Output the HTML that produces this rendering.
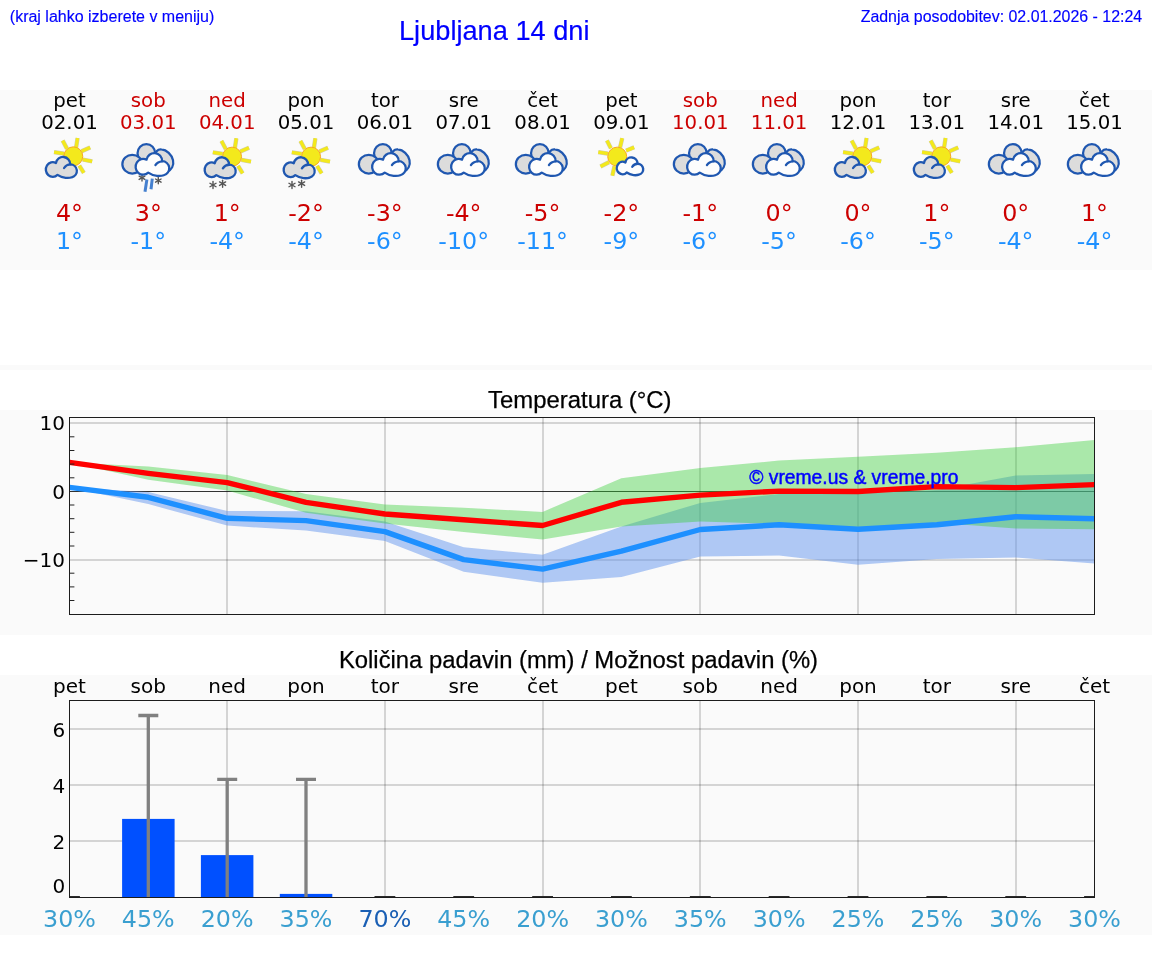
<!DOCTYPE html>
<html lang="sl"><head><meta charset="utf-8"><title>Ljubljana 14 dni</title>
<style>
html,body{margin:0;padding:0;background:#fff;}
body{width:1152px;height:975px;overflow:hidden;}
svg{display:block;will-change:transform;}
.dj{font-family:"DejaVu Sans","Liberation Sans",sans-serif;}
.ar{font-family:"Liberation Sans","DejaVu Sans",sans-serif;}
.d20{font-size:20px;}
.d24{font-size:23.8px;}
.mid{text-anchor:middle;}
.end{text-anchor:end;}
</style></head><body>
<svg width="1152" height="975" viewBox="0 0 1152 975">
<rect x="0" y="90" width="1152" height="180" fill="#fafafa"/>
<rect x="0" y="365" width="1152" height="5" fill="#fafafa"/>
<rect x="0" y="410" width="1152" height="225" fill="#fafafa"/>
<rect x="0" y="675" width="1152" height="260" fill="#fafafa"/>
<text class="ar" x="9.8" y="21.8" font-size="16" fill="#0000ff" stroke="#0000ff" stroke-width="0.15">(kraj lahko izberete v meniju)</text>
<text class="ar" x="399" y="39.6" font-size="27.2" fill="#0000ff" stroke="#0000ff" stroke-width="0.2">Ljubljana 14 dni</text>
<text class="ar end" x="1142.2" y="21.8" font-size="15.93" fill="#0000ff" stroke="#0000ff" stroke-width="0.15">Zadnja posodobitev: 02.01.2026 - 12:24</text>
<text class="dj mid" font-size="19.75" x="69.5" y="106.5" fill="#000">pet</text>
<text class="dj mid" font-size="19.75" x="69.5" y="129.1" fill="#000">02.01</text>
<text class="dj d24 mid" x="69.5" y="220.8" fill="#cc0000">4°</text>
<text class="dj d24 mid" x="69.5" y="249" fill="#1e90ff">1°</text>
<text class="dj mid" font-size="19.75" x="148.3" y="106.5" fill="#cc0000">sob</text>
<text class="dj mid" font-size="19.75" x="148.3" y="129.1" fill="#cc0000">03.01</text>
<text class="dj d24 mid" x="148.3" y="220.8" fill="#cc0000">3°</text>
<text class="dj d24 mid" x="148.3" y="249" fill="#1e90ff">-1°</text>
<text class="dj mid" font-size="19.75" x="227.2" y="106.5" fill="#cc0000">ned</text>
<text class="dj mid" font-size="19.75" x="227.2" y="129.1" fill="#cc0000">04.01</text>
<text class="dj d24 mid" x="227.2" y="220.8" fill="#cc0000">1°</text>
<text class="dj d24 mid" x="227.2" y="249" fill="#1e90ff">-4°</text>
<text class="dj mid" font-size="19.75" x="306.0" y="106.5" fill="#000">pon</text>
<text class="dj mid" font-size="19.75" x="306.0" y="129.1" fill="#000">05.01</text>
<text class="dj d24 mid" x="306.0" y="220.8" fill="#cc0000">-2°</text>
<text class="dj d24 mid" x="306.0" y="249" fill="#1e90ff">-4°</text>
<text class="dj mid" font-size="19.75" x="384.9" y="106.5" fill="#000">tor</text>
<text class="dj mid" font-size="19.75" x="384.9" y="129.1" fill="#000">06.01</text>
<text class="dj d24 mid" x="384.9" y="220.8" fill="#cc0000">-3°</text>
<text class="dj d24 mid" x="384.9" y="249" fill="#1e90ff">-6°</text>
<text class="dj mid" font-size="19.75" x="463.7" y="106.5" fill="#000">sre</text>
<text class="dj mid" font-size="19.75" x="463.7" y="129.1" fill="#000">07.01</text>
<text class="dj d24 mid" x="463.7" y="220.8" fill="#cc0000">-4°</text>
<text class="dj d24 mid" x="463.7" y="249" fill="#1e90ff">-10°</text>
<text class="dj mid" font-size="19.75" x="542.6" y="106.5" fill="#000">čet</text>
<text class="dj mid" font-size="19.75" x="542.6" y="129.1" fill="#000">08.01</text>
<text class="dj d24 mid" x="542.6" y="220.8" fill="#cc0000">-5°</text>
<text class="dj d24 mid" x="542.6" y="249" fill="#1e90ff">-11°</text>
<text class="dj mid" font-size="19.75" x="621.4" y="106.5" fill="#000">pet</text>
<text class="dj mid" font-size="19.75" x="621.4" y="129.1" fill="#000">09.01</text>
<text class="dj d24 mid" x="621.4" y="220.8" fill="#cc0000">-2°</text>
<text class="dj d24 mid" x="621.4" y="249" fill="#1e90ff">-9°</text>
<text class="dj mid" font-size="19.75" x="700.3" y="106.5" fill="#cc0000">sob</text>
<text class="dj mid" font-size="19.75" x="700.3" y="129.1" fill="#cc0000">10.01</text>
<text class="dj d24 mid" x="700.3" y="220.8" fill="#cc0000">-1°</text>
<text class="dj d24 mid" x="700.3" y="249" fill="#1e90ff">-6°</text>
<text class="dj mid" font-size="19.75" x="779.1" y="106.5" fill="#cc0000">ned</text>
<text class="dj mid" font-size="19.75" x="779.1" y="129.1" fill="#cc0000">11.01</text>
<text class="dj d24 mid" x="779.1" y="220.8" fill="#cc0000">0°</text>
<text class="dj d24 mid" x="779.1" y="249" fill="#1e90ff">-5°</text>
<text class="dj mid" font-size="19.75" x="858.0" y="106.5" fill="#000">pon</text>
<text class="dj mid" font-size="19.75" x="858.0" y="129.1" fill="#000">12.01</text>
<text class="dj d24 mid" x="858.0" y="220.8" fill="#cc0000">0°</text>
<text class="dj d24 mid" x="858.0" y="249" fill="#1e90ff">-6°</text>
<text class="dj mid" font-size="19.75" x="936.8" y="106.5" fill="#000">tor</text>
<text class="dj mid" font-size="19.75" x="936.8" y="129.1" fill="#000">13.01</text>
<text class="dj d24 mid" x="936.8" y="220.8" fill="#cc0000">1°</text>
<text class="dj d24 mid" x="936.8" y="249" fill="#1e90ff">-5°</text>
<text class="dj mid" font-size="19.75" x="1015.7" y="106.5" fill="#000">sre</text>
<text class="dj mid" font-size="19.75" x="1015.7" y="129.1" fill="#000">14.01</text>
<text class="dj d24 mid" x="1015.7" y="220.8" fill="#cc0000">0°</text>
<text class="dj d24 mid" x="1015.7" y="249" fill="#1e90ff">-4°</text>
<text class="dj mid" font-size="19.75" x="1094.5" y="106.5" fill="#000">čet</text>
<text class="dj mid" font-size="19.75" x="1094.5" y="129.1" fill="#000">15.01</text>
<text class="dj d24 mid" x="1094.5" y="220.8" fill="#cc0000">1°</text>
<text class="dj d24 mid" x="1094.5" y="249" fill="#1e90ff">-4°</text>
<g><line x1="66.95" y1="148.62" x2="62.65" y2="140.6" stroke="#8a8550" stroke-opacity="0.4" stroke-width="4.3"/><line x1="76.11" y1="147.47" x2="77.55" y2="138.02" stroke="#8a8550" stroke-opacity="0.4" stroke-width="4.3"/><line x1="81.56" y1="151.2" x2="90.15" y2="147.47" stroke="#8a8550" stroke-opacity="0.4" stroke-width="4.3"/><line x1="82.7" y1="159.51" x2="92.16" y2="161.34" stroke="#8a8550" stroke-opacity="0.4" stroke-width="4.3"/><line x1="79.27" y1="165.52" x2="83.85" y2="172.97" stroke="#8a8550" stroke-opacity="0.4" stroke-width="4.3"/><line x1="63.79" y1="153.66" x2="54.05" y2="152.17" stroke="#8a8550" stroke-opacity="0.4" stroke-width="4.3"/><line x1="66.95" y1="148.62" x2="62.65" y2="140.6" stroke="#f3e91c" stroke-width="3.3"/><line x1="76.11" y1="147.47" x2="77.55" y2="138.02" stroke="#f3e91c" stroke-width="3.3"/><line x1="81.56" y1="151.2" x2="90.15" y2="147.47" stroke="#f3e91c" stroke-width="3.3"/><line x1="82.7" y1="159.51" x2="92.16" y2="161.34" stroke="#f3e91c" stroke-width="3.3"/><line x1="79.27" y1="165.52" x2="83.85" y2="172.97" stroke="#f3e91c" stroke-width="3.3"/><line x1="63.79" y1="153.66" x2="54.05" y2="152.17" stroke="#f3e91c" stroke-width="3.3"/><circle cx="73.25" cy="156.36" r="9.5" fill="#f3e91c" stroke="#f6a821" stroke-width="1.0"/><path d="M57.49,174.87 A6.93,7.34 0 1 1 55.94,162.95 A7.22,7.22 0 0 1 70.27,164.38 A6.53,6.53 0 0 1 71.82,177.27 C69.24,178.3 62.65,178.53 57.49,174.87 Z" fill="#dcdcdc" stroke="#1f57b0" stroke-width="2.3" stroke-linejoin="round"/><path d="M70.38,164.44 Q66.09,164.66 64.08,167.99" fill="none" stroke="#1f57b0" stroke-width="2.3" stroke-linecap="round"/></g>
<g><g stroke="#555555" stroke-width="1.4" stroke-linecap="round"><line x1="142" y1="174.5" x2="142" y2="181.1"/><line x1="139.14" y1="176.15" x2="144.86" y2="179.45"/><line x1="144.86" y1="176.15" x2="139.14" y2="179.45"/></g><g stroke="#555555" stroke-width="1.4" stroke-linecap="round"><line x1="158.3" y1="177.4" x2="158.3" y2="183.8"/><line x1="155.53" y1="179" x2="161.07" y2="182.2"/><line x1="161.07" y1="179" x2="155.53" y2="182.2"/></g><line x1="146.9" y1="179.5" x2="145" y2="191.8" stroke="#4580cf" stroke-width="3.0"/><line x1="152.3" y1="178.6" x2="151" y2="189.3" stroke="#4580cf" stroke-width="3.0"/><path d="M154.61,156.37 C155.88,149.49 159.2,149.26 161.43,149.49 C166.76,149.84 171.69,154.53 173.01,160.21 C174.1,164.96 171.81,169.84 166.36,172.41 L154.61,166.68 Z" fill="#dcdcdc" stroke="#1f57b0" stroke-width="2.25" stroke-linejoin="round"/><ellipse cx="146.36" cy="153.27" rx="8.83" ry="9.23" fill="#dcdcdc" stroke="#1f57b0" stroke-width="2.25"/><ellipse cx="132.27" cy="164.16" rx="9.91" ry="9.4" fill="#dcdcdc" stroke="#1f57b0" stroke-width="2.25"/><path d="M148.24,172.62 A7.52,7.96 0 1 1 146.56,159.69 A7.83,7.83 0 0 1 162.11,161.24 A7.09,7.09 0 0 1 163.78,175.23 C160.99,176.35 153.84,176.6 148.24,172.62 Z" fill="#fdfdfd" stroke="#1f57b0" stroke-width="2.25" stroke-linejoin="round"/><path d="M162.23,161.3 Q157.57,161.55 155.39,165.16" fill="none" stroke="#1f57b0" stroke-width="2.25" stroke-linecap="round"/></g>
<g><line x1="225.75" y1="148.92" x2="221.45" y2="140.9" stroke="#8a8550" stroke-opacity="0.4" stroke-width="4.3"/><line x1="234.91" y1="147.77" x2="236.35" y2="138.32" stroke="#8a8550" stroke-opacity="0.4" stroke-width="4.3"/><line x1="240.36" y1="151.5" x2="248.95" y2="147.77" stroke="#8a8550" stroke-opacity="0.4" stroke-width="4.3"/><line x1="241.5" y1="159.81" x2="250.96" y2="161.64" stroke="#8a8550" stroke-opacity="0.4" stroke-width="4.3"/><line x1="238.07" y1="165.82" x2="242.65" y2="173.27" stroke="#8a8550" stroke-opacity="0.4" stroke-width="4.3"/><line x1="222.59" y1="153.96" x2="212.85" y2="152.47" stroke="#8a8550" stroke-opacity="0.4" stroke-width="4.3"/><line x1="225.75" y1="148.92" x2="221.45" y2="140.9" stroke="#f3e91c" stroke-width="3.3"/><line x1="234.91" y1="147.77" x2="236.35" y2="138.32" stroke="#f3e91c" stroke-width="3.3"/><line x1="240.36" y1="151.5" x2="248.95" y2="147.77" stroke="#f3e91c" stroke-width="3.3"/><line x1="241.5" y1="159.81" x2="250.96" y2="161.64" stroke="#f3e91c" stroke-width="3.3"/><line x1="238.07" y1="165.82" x2="242.65" y2="173.27" stroke="#f3e91c" stroke-width="3.3"/><line x1="222.59" y1="153.96" x2="212.85" y2="152.47" stroke="#f3e91c" stroke-width="3.3"/><circle cx="232.05" cy="156.66" r="9.5" fill="#f3e91c" stroke="#f6a821" stroke-width="1.0"/><path d="M216.29,175.17 A6.93,7.34 0 1 1 214.74,163.25 A7.22,7.22 0 0 1 229.07,164.68 A6.53,6.53 0 0 1 230.62,177.57 C228.04,178.6 221.45,178.83 216.29,175.17 Z" fill="#dcdcdc" stroke="#1f57b0" stroke-width="2.3" stroke-linejoin="round"/><path d="M229.18,164.74 Q224.89,164.96 222.88,168.29" fill="none" stroke="#1f57b0" stroke-width="2.3" stroke-linecap="round"/><g stroke="#555555" stroke-width="1.4" stroke-linecap="round"><line x1="213" y1="181.5" x2="213" y2="188.5"/><line x1="209.97" y1="183.25" x2="216.03" y2="186.75"/><line x1="216.03" y1="183.25" x2="209.97" y2="186.75"/></g><g stroke="#555555" stroke-width="1.4" stroke-linecap="round"><line x1="222.6" y1="180.2" x2="222.6" y2="187.2"/><line x1="219.57" y1="181.95" x2="225.63" y2="185.45"/><line x1="225.63" y1="181.95" x2="219.57" y2="185.45"/></g></g>
<g><line x1="304.75" y1="148.92" x2="300.45" y2="140.9" stroke="#8a8550" stroke-opacity="0.4" stroke-width="4.3"/><line x1="313.91" y1="147.77" x2="315.35" y2="138.32" stroke="#8a8550" stroke-opacity="0.4" stroke-width="4.3"/><line x1="319.36" y1="151.5" x2="327.95" y2="147.77" stroke="#8a8550" stroke-opacity="0.4" stroke-width="4.3"/><line x1="320.5" y1="159.81" x2="329.96" y2="161.64" stroke="#8a8550" stroke-opacity="0.4" stroke-width="4.3"/><line x1="317.07" y1="165.82" x2="321.65" y2="173.27" stroke="#8a8550" stroke-opacity="0.4" stroke-width="4.3"/><line x1="301.59" y1="153.96" x2="291.85" y2="152.47" stroke="#8a8550" stroke-opacity="0.4" stroke-width="4.3"/><line x1="304.75" y1="148.92" x2="300.45" y2="140.9" stroke="#f3e91c" stroke-width="3.3"/><line x1="313.91" y1="147.77" x2="315.35" y2="138.32" stroke="#f3e91c" stroke-width="3.3"/><line x1="319.36" y1="151.5" x2="327.95" y2="147.77" stroke="#f3e91c" stroke-width="3.3"/><line x1="320.5" y1="159.81" x2="329.96" y2="161.64" stroke="#f3e91c" stroke-width="3.3"/><line x1="317.07" y1="165.82" x2="321.65" y2="173.27" stroke="#f3e91c" stroke-width="3.3"/><line x1="301.59" y1="153.96" x2="291.85" y2="152.47" stroke="#f3e91c" stroke-width="3.3"/><circle cx="311.05" cy="156.66" r="9.5" fill="#f3e91c" stroke="#f6a821" stroke-width="1.0"/><path d="M295.29,175.17 A6.93,7.34 0 1 1 293.74,163.25 A7.22,7.22 0 0 1 308.07,164.68 A6.53,6.53 0 0 1 309.62,177.57 C307.04,178.6 300.45,178.83 295.29,175.17 Z" fill="#dcdcdc" stroke="#1f57b0" stroke-width="2.3" stroke-linejoin="round"/><path d="M308.18,164.74 Q303.89,164.96 301.88,168.29" fill="none" stroke="#1f57b0" stroke-width="2.3" stroke-linecap="round"/><g stroke="#555555" stroke-width="1.4" stroke-linecap="round"><line x1="292" y1="181.5" x2="292" y2="188.5"/><line x1="288.97" y1="183.25" x2="295.03" y2="186.75"/><line x1="295.03" y1="183.25" x2="288.97" y2="186.75"/></g><g stroke="#555555" stroke-width="1.4" stroke-linecap="round"><line x1="301.6" y1="180.2" x2="301.6" y2="187.2"/><line x1="298.57" y1="181.95" x2="304.63" y2="185.45"/><line x1="304.63" y1="181.95" x2="298.57" y2="185.45"/></g></g>
<g><path d="M391.11,156.37 C392.38,149.49 395.7,149.26 397.93,149.49 C403.26,149.84 408.19,154.53 409.51,160.21 C410.6,164.96 408.31,169.84 402.86,172.41 L391.11,166.68 Z" fill="#dcdcdc" stroke="#1f57b0" stroke-width="2.25" stroke-linejoin="round"/><ellipse cx="382.86" cy="153.27" rx="8.83" ry="9.23" fill="#dcdcdc" stroke="#1f57b0" stroke-width="2.25"/><ellipse cx="368.77" cy="164.16" rx="9.91" ry="9.4" fill="#dcdcdc" stroke="#1f57b0" stroke-width="2.25"/><path d="M384.74,172.62 A7.52,7.96 0 1 1 383.06,159.69 A7.83,7.83 0 0 1 398.61,161.24 A7.09,7.09 0 0 1 400.28,175.23 C397.49,176.35 390.34,176.6 384.74,172.62 Z" fill="#fdfdfd" stroke="#1f57b0" stroke-width="2.25" stroke-linejoin="round"/><path d="M398.73,161.3 Q394.07,161.55 391.89,165.16" fill="none" stroke="#1f57b0" stroke-width="2.25" stroke-linecap="round"/></g>
<g><path d="M470.11,156.37 C471.38,149.49 474.7,149.26 476.93,149.49 C482.26,149.84 487.19,154.53 488.51,160.21 C489.6,164.96 487.31,169.84 481.86,172.41 L470.11,166.68 Z" fill="#dcdcdc" stroke="#1f57b0" stroke-width="2.25" stroke-linejoin="round"/><ellipse cx="461.86" cy="153.27" rx="8.83" ry="9.23" fill="#dcdcdc" stroke="#1f57b0" stroke-width="2.25"/><ellipse cx="447.77" cy="164.16" rx="9.91" ry="9.4" fill="#dcdcdc" stroke="#1f57b0" stroke-width="2.25"/><path d="M463.74,172.62 A7.52,7.96 0 1 1 462.06,159.69 A7.83,7.83 0 0 1 477.61,161.24 A7.09,7.09 0 0 1 479.28,175.23 C476.49,176.35 469.34,176.6 463.74,172.62 Z" fill="#fdfdfd" stroke="#1f57b0" stroke-width="2.25" stroke-linejoin="round"/><path d="M477.73,161.3 Q473.07,161.55 470.89,165.16" fill="none" stroke="#1f57b0" stroke-width="2.25" stroke-linecap="round"/></g>
<g><path d="M548.11,156.37 C549.38,149.49 552.7,149.26 554.93,149.49 C560.26,149.84 565.19,154.53 566.51,160.21 C567.6,164.96 565.31,169.84 559.86,172.41 L548.11,166.68 Z" fill="#dcdcdc" stroke="#1f57b0" stroke-width="2.25" stroke-linejoin="round"/><ellipse cx="539.86" cy="153.27" rx="8.83" ry="9.23" fill="#dcdcdc" stroke="#1f57b0" stroke-width="2.25"/><ellipse cx="525.77" cy="164.16" rx="9.91" ry="9.4" fill="#dcdcdc" stroke="#1f57b0" stroke-width="2.25"/><path d="M541.74,172.62 A7.52,7.96 0 1 1 540.06,159.69 A7.83,7.83 0 0 1 555.61,161.24 A7.09,7.09 0 0 1 557.28,175.23 C554.49,176.35 547.34,176.6 541.74,172.62 Z" fill="#fdfdfd" stroke="#1f57b0" stroke-width="2.25" stroke-linejoin="round"/><path d="M555.73,161.3 Q551.07,161.55 548.89,165.16" fill="none" stroke="#1f57b0" stroke-width="2.25" stroke-linecap="round"/></g>
<g><line x1="610.92" y1="148.33" x2="606.91" y2="140.6" stroke="#8a8550" stroke-opacity="0.4" stroke-width="4.3"/><line x1="620.09" y1="147.36" x2="622.21" y2="138.19" stroke="#8a8550" stroke-opacity="0.4" stroke-width="4.3"/><line x1="626.11" y1="150.62" x2="634.13" y2="147.36" stroke="#8a8550" stroke-opacity="0.4" stroke-width="4.3"/><line x1="607.77" y1="153.66" x2="598.32" y2="152.06" stroke="#8a8550" stroke-opacity="0.4" stroke-width="4.3"/><line x1="608.92" y1="162.26" x2="600.49" y2="166.5" stroke="#8a8550" stroke-opacity="0.4" stroke-width="4.3"/><line x1="614.48" y1="166.27" x2="612.36" y2="175.67" stroke="#8a8550" stroke-opacity="0.4" stroke-width="4.3"/><line x1="610.92" y1="148.33" x2="606.91" y2="140.6" stroke="#f3e91c" stroke-width="3.3"/><line x1="620.09" y1="147.36" x2="622.21" y2="138.19" stroke="#f3e91c" stroke-width="3.3"/><line x1="626.11" y1="150.62" x2="634.13" y2="147.36" stroke="#f3e91c" stroke-width="3.3"/><line x1="607.77" y1="153.66" x2="598.32" y2="152.06" stroke="#f3e91c" stroke-width="3.3"/><line x1="608.92" y1="162.26" x2="600.49" y2="166.5" stroke="#f3e91c" stroke-width="3.3"/><line x1="614.48" y1="166.27" x2="612.36" y2="175.67" stroke="#f3e91c" stroke-width="3.3"/><circle cx="617.23" cy="156.64" r="9.5" fill="#f3e91c" stroke="#f6a821" stroke-width="1.0"/><path d="M626.69,172.6 A5.89,6.23 0 1 1 625.37,162.47 A6.14,6.14 0 0 1 637.55,163.68 A5.55,5.55 0 0 1 638.87,174.64 C636.67,175.52 631.07,175.71 626.69,172.6 Z" fill="#fdfdfd" stroke="#1f57b0" stroke-width="2.4" stroke-linejoin="round"/><path d="M637.65,163.73 Q634,163.93 632.29,166.75" fill="none" stroke="#1f57b0" stroke-width="2.4" stroke-linecap="round"/></g>
<g><path d="M706.11,156.37 C707.38,149.49 710.7,149.26 712.93,149.49 C718.26,149.84 723.19,154.53 724.51,160.21 C725.6,164.96 723.31,169.84 717.86,172.41 L706.11,166.68 Z" fill="#dcdcdc" stroke="#1f57b0" stroke-width="2.25" stroke-linejoin="round"/><ellipse cx="697.86" cy="153.27" rx="8.83" ry="9.23" fill="#dcdcdc" stroke="#1f57b0" stroke-width="2.25"/><ellipse cx="683.77" cy="164.16" rx="9.91" ry="9.4" fill="#dcdcdc" stroke="#1f57b0" stroke-width="2.25"/><path d="M699.74,172.62 A7.52,7.96 0 1 1 698.06,159.69 A7.83,7.83 0 0 1 713.61,161.24 A7.09,7.09 0 0 1 715.28,175.23 C712.49,176.35 705.34,176.6 699.74,172.62 Z" fill="#fdfdfd" stroke="#1f57b0" stroke-width="2.25" stroke-linejoin="round"/><path d="M713.73,161.3 Q709.07,161.55 706.89,165.16" fill="none" stroke="#1f57b0" stroke-width="2.25" stroke-linecap="round"/></g>
<g><path d="M785.11,156.37 C786.38,149.49 789.7,149.26 791.93,149.49 C797.26,149.84 802.19,154.53 803.51,160.21 C804.6,164.96 802.31,169.84 796.86,172.41 L785.11,166.68 Z" fill="#dcdcdc" stroke="#1f57b0" stroke-width="2.25" stroke-linejoin="round"/><ellipse cx="776.86" cy="153.27" rx="8.83" ry="9.23" fill="#dcdcdc" stroke="#1f57b0" stroke-width="2.25"/><ellipse cx="762.77" cy="164.16" rx="9.91" ry="9.4" fill="#dcdcdc" stroke="#1f57b0" stroke-width="2.25"/><path d="M778.74,172.62 A7.52,7.96 0 1 1 777.06,159.69 A7.83,7.83 0 0 1 792.61,161.24 A7.09,7.09 0 0 1 794.28,175.23 C791.49,176.35 784.34,176.6 778.74,172.62 Z" fill="#fdfdfd" stroke="#1f57b0" stroke-width="2.25" stroke-linejoin="round"/><path d="M792.73,161.3 Q788.07,161.55 785.89,165.16" fill="none" stroke="#1f57b0" stroke-width="2.25" stroke-linecap="round"/></g>
<g><line x1="855.95" y1="148.62" x2="851.65" y2="140.6" stroke="#8a8550" stroke-opacity="0.4" stroke-width="4.3"/><line x1="865.11" y1="147.47" x2="866.55" y2="138.02" stroke="#8a8550" stroke-opacity="0.4" stroke-width="4.3"/><line x1="870.56" y1="151.2" x2="879.15" y2="147.47" stroke="#8a8550" stroke-opacity="0.4" stroke-width="4.3"/><line x1="871.7" y1="159.51" x2="881.16" y2="161.34" stroke="#8a8550" stroke-opacity="0.4" stroke-width="4.3"/><line x1="868.27" y1="165.52" x2="872.85" y2="172.97" stroke="#8a8550" stroke-opacity="0.4" stroke-width="4.3"/><line x1="852.79" y1="153.66" x2="843.05" y2="152.17" stroke="#8a8550" stroke-opacity="0.4" stroke-width="4.3"/><line x1="855.95" y1="148.62" x2="851.65" y2="140.6" stroke="#f3e91c" stroke-width="3.3"/><line x1="865.11" y1="147.47" x2="866.55" y2="138.02" stroke="#f3e91c" stroke-width="3.3"/><line x1="870.56" y1="151.2" x2="879.15" y2="147.47" stroke="#f3e91c" stroke-width="3.3"/><line x1="871.7" y1="159.51" x2="881.16" y2="161.34" stroke="#f3e91c" stroke-width="3.3"/><line x1="868.27" y1="165.52" x2="872.85" y2="172.97" stroke="#f3e91c" stroke-width="3.3"/><line x1="852.79" y1="153.66" x2="843.05" y2="152.17" stroke="#f3e91c" stroke-width="3.3"/><circle cx="862.25" cy="156.36" r="9.5" fill="#f3e91c" stroke="#f6a821" stroke-width="1.0"/><path d="M846.49,174.87 A6.93,7.34 0 1 1 844.94,162.95 A7.22,7.22 0 0 1 859.27,164.38 A6.53,6.53 0 0 1 860.82,177.27 C858.24,178.3 851.65,178.53 846.49,174.87 Z" fill="#dcdcdc" stroke="#1f57b0" stroke-width="2.3" stroke-linejoin="round"/><path d="M859.38,164.44 Q855.09,164.66 853.08,167.99" fill="none" stroke="#1f57b0" stroke-width="2.3" stroke-linecap="round"/></g>
<g><line x1="934.95" y1="148.62" x2="930.65" y2="140.6" stroke="#8a8550" stroke-opacity="0.4" stroke-width="4.3"/><line x1="944.11" y1="147.47" x2="945.55" y2="138.02" stroke="#8a8550" stroke-opacity="0.4" stroke-width="4.3"/><line x1="949.56" y1="151.2" x2="958.15" y2="147.47" stroke="#8a8550" stroke-opacity="0.4" stroke-width="4.3"/><line x1="950.7" y1="159.51" x2="960.16" y2="161.34" stroke="#8a8550" stroke-opacity="0.4" stroke-width="4.3"/><line x1="947.27" y1="165.52" x2="951.85" y2="172.97" stroke="#8a8550" stroke-opacity="0.4" stroke-width="4.3"/><line x1="931.79" y1="153.66" x2="922.05" y2="152.17" stroke="#8a8550" stroke-opacity="0.4" stroke-width="4.3"/><line x1="934.95" y1="148.62" x2="930.65" y2="140.6" stroke="#f3e91c" stroke-width="3.3"/><line x1="944.11" y1="147.47" x2="945.55" y2="138.02" stroke="#f3e91c" stroke-width="3.3"/><line x1="949.56" y1="151.2" x2="958.15" y2="147.47" stroke="#f3e91c" stroke-width="3.3"/><line x1="950.7" y1="159.51" x2="960.16" y2="161.34" stroke="#f3e91c" stroke-width="3.3"/><line x1="947.27" y1="165.52" x2="951.85" y2="172.97" stroke="#f3e91c" stroke-width="3.3"/><line x1="931.79" y1="153.66" x2="922.05" y2="152.17" stroke="#f3e91c" stroke-width="3.3"/><circle cx="941.25" cy="156.36" r="9.5" fill="#f3e91c" stroke="#f6a821" stroke-width="1.0"/><path d="M925.49,174.87 A6.93,7.34 0 1 1 923.94,162.95 A7.22,7.22 0 0 1 938.27,164.38 A6.53,6.53 0 0 1 939.82,177.27 C937.24,178.3 930.65,178.53 925.49,174.87 Z" fill="#dcdcdc" stroke="#1f57b0" stroke-width="2.3" stroke-linejoin="round"/><path d="M938.38,164.44 Q934.09,164.66 932.08,167.99" fill="none" stroke="#1f57b0" stroke-width="2.3" stroke-linecap="round"/></g>
<g><path d="M1021.11,156.37 C1022.38,149.49 1025.7,149.26 1027.93,149.49 C1033.26,149.84 1038.19,154.53 1039.51,160.21 C1040.6,164.96 1038.31,169.84 1032.86,172.41 L1021.11,166.68 Z" fill="#dcdcdc" stroke="#1f57b0" stroke-width="2.25" stroke-linejoin="round"/><ellipse cx="1012.86" cy="153.27" rx="8.83" ry="9.23" fill="#dcdcdc" stroke="#1f57b0" stroke-width="2.25"/><ellipse cx="998.77" cy="164.16" rx="9.91" ry="9.4" fill="#dcdcdc" stroke="#1f57b0" stroke-width="2.25"/><path d="M1014.74,172.62 A7.52,7.96 0 1 1 1013.06,159.69 A7.83,7.83 0 0 1 1028.61,161.24 A7.09,7.09 0 0 1 1030.28,175.23 C1027.49,176.35 1020.34,176.6 1014.74,172.62 Z" fill="#fdfdfd" stroke="#1f57b0" stroke-width="2.25" stroke-linejoin="round"/><path d="M1028.73,161.3 Q1024.07,161.55 1021.89,165.16" fill="none" stroke="#1f57b0" stroke-width="2.25" stroke-linecap="round"/></g>
<g><path d="M1100.11,156.37 C1101.38,149.49 1104.7,149.26 1106.93,149.49 C1112.26,149.84 1117.19,154.53 1118.51,160.21 C1119.6,164.96 1117.31,169.84 1111.86,172.41 L1100.11,166.68 Z" fill="#dcdcdc" stroke="#1f57b0" stroke-width="2.25" stroke-linejoin="round"/><ellipse cx="1091.86" cy="153.27" rx="8.83" ry="9.23" fill="#dcdcdc" stroke="#1f57b0" stroke-width="2.25"/><ellipse cx="1077.77" cy="164.16" rx="9.91" ry="9.4" fill="#dcdcdc" stroke="#1f57b0" stroke-width="2.25"/><path d="M1093.74,172.62 A7.52,7.96 0 1 1 1092.06,159.69 A7.83,7.83 0 0 1 1107.61,161.24 A7.09,7.09 0 0 1 1109.28,175.23 C1106.49,176.35 1099.34,176.6 1093.74,172.62 Z" fill="#fdfdfd" stroke="#1f57b0" stroke-width="2.25" stroke-linejoin="round"/><path d="M1107.73,161.3 Q1103.07,161.55 1100.89,165.16" fill="none" stroke="#1f57b0" stroke-width="2.25" stroke-linecap="round"/></g>
<text class="ar mid" x="579.8" y="407.8" font-size="23.9" fill="#000" stroke="#000" stroke-width="0.25">Temperatura (°C)</text>
<clipPath id="tclip"><rect x="69.5" y="417.5" width="1025.0" height="197"/></clipPath>
<g clip-path="url(#tclip)">
<line x1="69.5" x2="1094.5" y1="423" y2="423" stroke="#000" stroke-opacity="0.15" stroke-width="2"/>
<line x1="69.5" x2="1094.5" y1="560" y2="560" stroke="#000" stroke-opacity="0.15" stroke-width="2"/>
<line x1="227" x2="227" y1="417.5" y2="614.5" stroke="#000" stroke-opacity="0.15" stroke-width="2"/>
<line x1="385" x2="385" y1="417.5" y2="614.5" stroke="#000" stroke-opacity="0.15" stroke-width="2"/>
<line x1="543" x2="543" y1="417.5" y2="614.5" stroke="#000" stroke-opacity="0.15" stroke-width="2"/>
<line x1="700" x2="700" y1="417.5" y2="614.5" stroke="#000" stroke-opacity="0.15" stroke-width="2"/>
<line x1="858" x2="858" y1="417.5" y2="614.5" stroke="#000" stroke-opacity="0.15" stroke-width="2"/>
<line x1="1016" x2="1016" y1="417.5" y2="614.5" stroke="#000" stroke-opacity="0.15" stroke-width="2"/>
<line x1="69.5" x2="1094.5" y1="491.5" y2="491.5" stroke="#000" stroke-opacity="0.8" stroke-width="1"/>
<polygon points="69.5,487.4 148.3,491.9 227.2,511.0 306.0,511.3 384.9,521.5 463.7,547.3 542.6,554.8 621.4,526.5 700.3,502.9 779.1,494.1 858.0,493.4 936.8,490.0 1015.7,475.6 1094.5,473.9 1094.5,563.4 1015.7,557.6 936.8,559.1 858.0,564.7 779.1,555.6 700.3,556.5 621.4,577.0 542.6,582.8 463.7,571.7 384.9,541.0 306.0,530.5 227.2,525.6 148.3,504.1 69.5,487.4" fill="#6495ed" fill-opacity="0.5"/>
<polygon points="69.5,462.4 148.3,466.6 227.2,475.0 306.0,494.1 384.9,504.6 463.7,507.8 542.6,511.9 621.4,478.2 700.3,468.0 779.1,460.6 858.0,456.8 936.8,452.7 1015.7,447.2 1094.5,440.1 1094.5,529.3 1015.7,528.5 936.8,522.8 858.0,528.2 779.1,524.1 700.3,521.5 621.4,526.5 542.6,539.5 463.7,532.0 384.9,523.5 306.0,512.8 227.2,490.5 148.3,479.8 69.5,462.4" fill="#32cd32" fill-opacity="0.4"/>
<polyline points="69.5,487.4 148.3,497.3 227.2,518.3 306.0,520.6 384.9,531.6 463.7,559.6 542.6,569.1 621.4,551.1 700.3,529.5 779.1,524.8 858.0,529.3 936.8,524.7 1015.7,516.7 1094.5,518.8" fill="none" stroke="#1e90ff" stroke-width="5.4" stroke-linejoin="round"/>
<polyline points="69.5,462.4 148.3,473.3 227.2,482.6 306.0,502.3 384.9,514.0 463.7,519.8 542.6,525.5 621.4,502.3 700.3,495.1 779.1,491.1 858.0,491.5 936.8,486.6 1015.7,487.6 1094.5,484.6" fill="none" stroke="#ff0000" stroke-width="5.4" stroke-linejoin="round"/>
</g>
<text class="ar mid" x="853.8" y="483.6" font-size="19.3" fill="#0000ff" stroke="#0000ff" stroke-width="0.45">© vreme.us &amp; vreme.pro</text>
<line x1="69.5" x2="74.4" y1="600.5" y2="600.5" stroke="#222" stroke-width="1"/>
<line x1="69.5" x2="74.4" y1="586.9" y2="586.9" stroke="#222" stroke-width="1"/>
<line x1="69.5" x2="74.4" y1="573.2" y2="573.2" stroke="#222" stroke-width="1"/>
<line x1="69.5" x2="74.4" y1="546.0" y2="546.0" stroke="#222" stroke-width="1"/>
<line x1="69.5" x2="74.4" y1="532.3" y2="532.3" stroke="#222" stroke-width="1"/>
<line x1="69.5" x2="74.4" y1="518.7" y2="518.7" stroke="#222" stroke-width="1"/>
<line x1="69.5" x2="74.4" y1="505.0" y2="505.0" stroke="#222" stroke-width="1"/>
<line x1="69.5" x2="74.4" y1="477.8" y2="477.8" stroke="#222" stroke-width="1"/>
<line x1="69.5" x2="74.4" y1="464.1" y2="464.1" stroke="#222" stroke-width="1"/>
<line x1="69.5" x2="74.4" y1="450.5" y2="450.5" stroke="#222" stroke-width="1"/>
<line x1="69.5" x2="74.4" y1="436.8" y2="436.8" stroke="#222" stroke-width="1"/>
<rect x="69.5" y="417.5" width="1025.0" height="197" fill="none" stroke="#1c1c1c" stroke-width="1"/>
<text class="dj d20 end" x="65" y="430" fill="#000">10</text>
<text class="dj d20 end" x="65" y="498.7" fill="#000">0</text>
<text class="dj d20 end" x="65" y="567" fill="#000">−10</text>
<text class="ar mid" x="578.5" y="668" font-size="23.82" fill="#000" stroke="#000" stroke-width="0.25">Količina padavin (mm) / Možnost padavin (%)</text>
<text class="dj d20 mid" x="69.5" y="692.5" fill="#000">pet</text>
<text class="dj d20 mid" x="148.3" y="692.5" fill="#000">sob</text>
<text class="dj d20 mid" x="227.2" y="692.5" fill="#000">ned</text>
<text class="dj d20 mid" x="306.0" y="692.5" fill="#000">pon</text>
<text class="dj d20 mid" x="384.9" y="692.5" fill="#000">tor</text>
<text class="dj d20 mid" x="463.7" y="692.5" fill="#000">sre</text>
<text class="dj d20 mid" x="542.6" y="692.5" fill="#000">čet</text>
<text class="dj d20 mid" x="621.4" y="692.5" fill="#000">pet</text>
<text class="dj d20 mid" x="700.3" y="692.5" fill="#000">sob</text>
<text class="dj d20 mid" x="779.1" y="692.5" fill="#000">ned</text>
<text class="dj d20 mid" x="858.0" y="692.5" fill="#000">pon</text>
<text class="dj d20 mid" x="936.8" y="692.5" fill="#000">tor</text>
<text class="dj d20 mid" x="1015.7" y="692.5" fill="#000">sre</text>
<text class="dj d20 mid" x="1094.5" y="692.5" fill="#000">čet</text>
<clipPath id="pclip"><rect x="69.5" y="700.5" width="1025.0" height="197"/></clipPath>
<g clip-path="url(#pclip)">
<line x1="69.5" x2="1094.5" y1="841" y2="841" stroke="#000" stroke-opacity="0.15" stroke-width="2"/>
<line x1="69.5" x2="1094.5" y1="785" y2="785" stroke="#000" stroke-opacity="0.15" stroke-width="2"/>
<line x1="69.5" x2="1094.5" y1="729" y2="729" stroke="#000" stroke-opacity="0.15" stroke-width="2"/>
<line x1="227" x2="227" y1="700.5" y2="897.5" stroke="#000" stroke-opacity="0.15" stroke-width="2"/>
<line x1="385" x2="385" y1="700.5" y2="897.5" stroke="#000" stroke-opacity="0.15" stroke-width="2"/>
<line x1="543" x2="543" y1="700.5" y2="897.5" stroke="#000" stroke-opacity="0.15" stroke-width="2"/>
<line x1="700" x2="700" y1="700.5" y2="897.5" stroke="#000" stroke-opacity="0.15" stroke-width="2"/>
<line x1="858" x2="858" y1="700.5" y2="897.5" stroke="#000" stroke-opacity="0.15" stroke-width="2"/>
<line x1="1016" x2="1016" y1="700.5" y2="897.5" stroke="#000" stroke-opacity="0.15" stroke-width="2"/>
<rect x="122.1" y="818.9" width="52.5" height="78.4" fill="#0050ff"/>
<rect x="200.9" y="855.1" width="52.5" height="42.1" fill="#0050ff"/>
<rect x="279.8" y="893.9" width="52.5" height="3.4" fill="#0050ff"/>
<rect x="59.1" y="896" width="20.8" height="1.5" fill="#2b2b2b"/>
<line x1="148.3" x2="148.3" y1="715.5" y2="897.3" stroke="#808080" stroke-width="3.3"/>
<line x1="138.3" x2="158.3" y1="715.5" y2="715.5" stroke="#808080" stroke-width="3.3"/>
<line x1="227.2" x2="227.2" y1="779.3" y2="897.3" stroke="#808080" stroke-width="3.3"/>
<line x1="217.2" x2="237.2" y1="779.3" y2="779.3" stroke="#808080" stroke-width="3.3"/>
<line x1="306.0" x2="306.0" y1="779.3" y2="897.3" stroke="#808080" stroke-width="3.3"/>
<line x1="296.0" x2="316.0" y1="779.3" y2="779.3" stroke="#808080" stroke-width="3.3"/>
<rect x="374.5" y="896" width="20.8" height="1.5" fill="#2b2b2b"/>
<rect x="453.3" y="896" width="20.8" height="1.5" fill="#2b2b2b"/>
<rect x="532.2" y="896" width="20.8" height="1.5" fill="#2b2b2b"/>
<rect x="611.0" y="896" width="20.8" height="1.5" fill="#2b2b2b"/>
<rect x="689.9" y="896" width="20.8" height="1.5" fill="#2b2b2b"/>
<rect x="768.7" y="896" width="20.8" height="1.5" fill="#2b2b2b"/>
<rect x="847.6" y="896" width="20.8" height="1.5" fill="#2b2b2b"/>
<rect x="926.4" y="896" width="20.8" height="1.5" fill="#2b2b2b"/>
<rect x="1005.3" y="896" width="20.8" height="1.5" fill="#2b2b2b"/>
<rect x="1084.1" y="896" width="20.8" height="1.5" fill="#2b2b2b"/>
</g>
<rect x="69.5" y="700.5" width="1025.0" height="197" fill="none" stroke="#1c1c1c" stroke-width="1"/>
<text class="dj d20 end" x="65.3" y="736.9" fill="#000">6</text>
<text class="dj d20 end" x="65.3" y="793.0" fill="#000">4</text>
<text class="dj d20 end" x="65.3" y="849.3" fill="#000">2</text>
<text class="dj d20 end" x="65.3" y="892.8" fill="#000">0</text>
<text class="dj d24 mid" x="69.5" y="926.9" fill="#3a9fd0">30%</text>
<text class="dj d24 mid" x="148.3" y="926.9" fill="#3a9fd0">45%</text>
<text class="dj d24 mid" x="227.2" y="926.9" fill="#3a9fd0">20%</text>
<text class="dj d24 mid" x="306.0" y="926.9" fill="#3a9fd0">35%</text>
<text class="dj d24 mid" x="384.9" y="926.9" fill="#1a5fb4">70%</text>
<text class="dj d24 mid" x="463.7" y="926.9" fill="#3a9fd0">45%</text>
<text class="dj d24 mid" x="542.6" y="926.9" fill="#3a9fd0">20%</text>
<text class="dj d24 mid" x="621.4" y="926.9" fill="#3a9fd0">30%</text>
<text class="dj d24 mid" x="700.3" y="926.9" fill="#3a9fd0">35%</text>
<text class="dj d24 mid" x="779.1" y="926.9" fill="#3a9fd0">30%</text>
<text class="dj d24 mid" x="858.0" y="926.9" fill="#3a9fd0">25%</text>
<text class="dj d24 mid" x="936.8" y="926.9" fill="#3a9fd0">25%</text>
<text class="dj d24 mid" x="1015.7" y="926.9" fill="#3a9fd0">30%</text>
<text class="dj d24 mid" x="1094.5" y="926.9" fill="#3a9fd0">30%</text>
</svg></body></html>
